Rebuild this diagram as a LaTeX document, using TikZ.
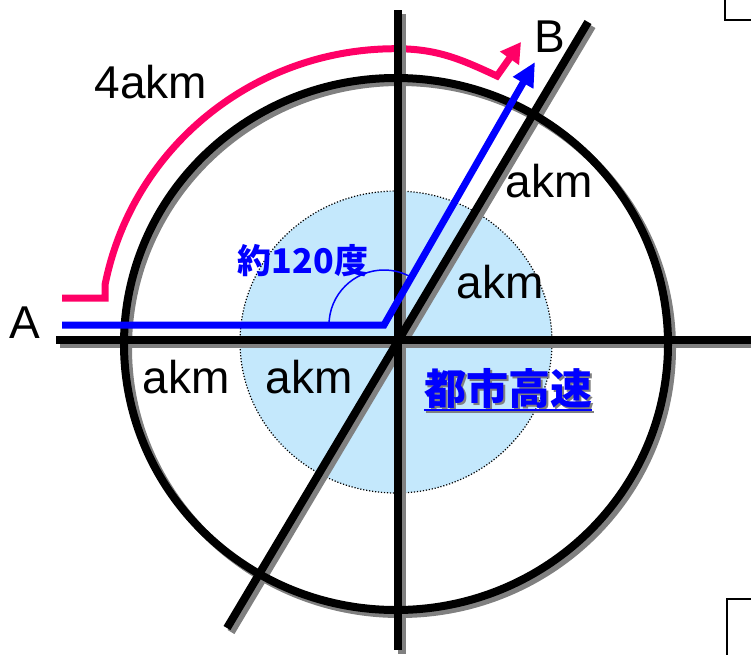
\documentclass[tikz,border=0pt]{standalone}
\usepackage{fontspec}
\setmainfont{Liberation Sans}
\newfontfamily\jpfont{Noto Sans CJK JP}
\usetikzlibrary{arrows.meta}
\definecolor{skyfill}{RGB}{196,232,252}
\definecolor{detourpink}{RGB}{255,0,102}
\definecolor{roadshade}{RGB}{128,128,128}
\tikzset{
    road/.style={line width=8pt},
    lbl/.style={inner sep=0pt,anchor=base,font=\fontsize{46}{50}\selectfont},
    anglelbl/.style={inner sep=0pt,text=blue,font=\jpfont\bfseries\fontsize{34}{36}\selectfont},
    citylbl/.style={inner sep=0pt,anchor=base,font=\jpfont\bfseries\fontsize{42}{46}\selectfont},
    route/.style={blue,line width=7pt,-{Triangle[length=24pt,width=22pt]}},
    detour/.style={detourpink,line width=7pt,-{Triangle[length=20pt,width=22pt]}}
}
\begin{document}
\begin{tikzpicture}[x=1pt,y=-1pt]
    \useasboundingbox (0,0) rectangle (751,654);
    % city area
    \draw[line width=1.2pt,dash pattern=on 1.2pt off 1.8pt,fill=skyfill] (396,342) ellipse [x radius=156,y radius=151];
    % detour round the ring
    \coordinate (dstart) at (62,298);
    \coordinate (dtip) at (521,42);
    \draw[detour] (dstart) -- (105,298) -- (105,285)
        arc[start angle=-169,end angle=-90,x radius=296,y radius=292]
        to[out=0,in=155] (497,76) -- (dtip);
    % ring road and radial roads, shadow first
    \foreach \d/\c in {4/roadshade,0/black}{
        \begin{scope}[shift={(\d,\d)}]
            \draw[road,\c] (396,344) ellipse [x radius=272,y radius=266];
            \draw[road,\c] (56,340) -- (760,340);
            \draw[road,\c] (398,10) -- (398,650);
            \draw[road,\c] (227,628) -- (588,22);
        \end{scope}
    }
    % route through the centre
    \coordinate (rstart) at (62,325);
    \coordinate (rbend) at (384,325);
    \coordinate (rtip) at (535,62);
    \draw[route] (rstart) -- (rbend) -- (rtip);
    \draw[blue,line width=1.5pt] (rbend) ++(-55,0) arc[start angle=180,end angle=300,radius=55];
    % labels
    \node[lbl] (ptA) at (25,338) {A};
    \node[lbl] (ptB) at (550,52) {B};
    \node[lbl] (dist4) at (151,98) {4akm};
    \node[lbl] (distNE) at (549,197) {akm};
    \node[lbl] (distE) at (500,298) {akm};
    \node[lbl] (distW) at (186,393) {akm};
    \node[lbl] (distC) at (309,393) {akm};
    \node[anglelbl] (angle) at (303,261) {約120度};
    \node[citylbl,text=roadshade] (cityshade) at (510,406) {都市高速};
    \draw[roadshade,line width=2pt] ([yshift=-6pt]cityshade.base west) -- ([yshift=-6pt]cityshade.base east);
    \node[citylbl,text=blue] (city) at (508,404) {都市高速};
    \draw[blue,line width=2pt] ([yshift=-6pt]city.base west) -- ([yshift=-6pt]city.base east);
    % frames at the right edge
    \draw[line width=1.5pt] (725,-5) |- (760,20);
    \draw[line width=1.5pt] (727,660) |- (760,599);
\end{tikzpicture}
\end{document}
